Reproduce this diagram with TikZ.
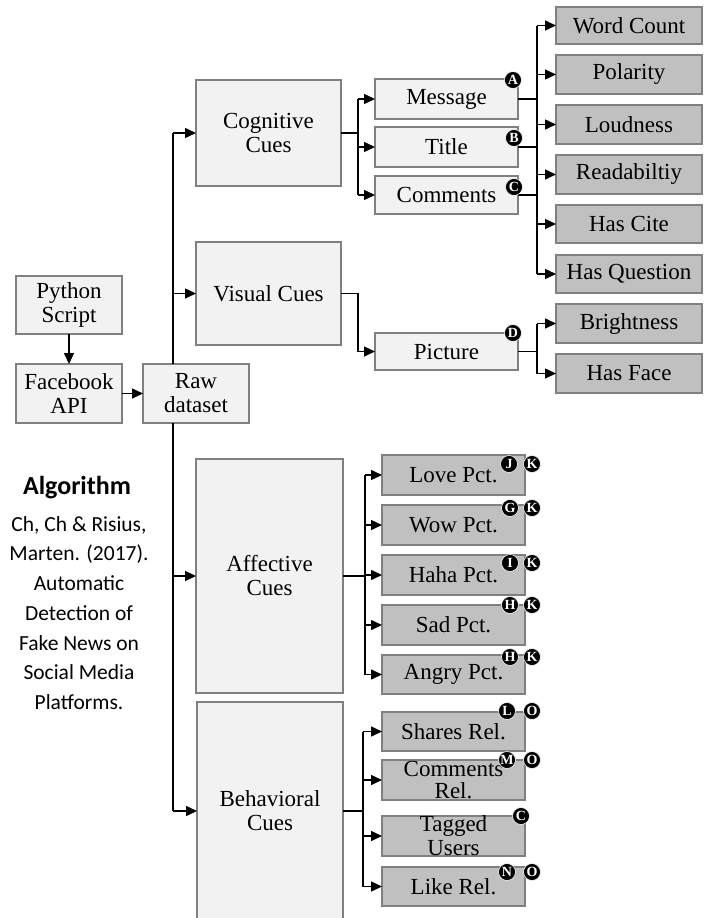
\documentclass[tikz,border=0pt]{standalone}
\usepackage{fontspec}
\setmainfont{Liberation Serif}
\newfontfamily\calibrifont{Carlito}
\usetikzlibrary{arrows.meta,calc}
\definecolor{lightfill}{HTML}{F2F2F2}
\definecolor{grayfill}{HTML}{C0C0C0}
\definecolor{edgegray}{HTML}{808080}
\tikzset{
 base/.style={draw=edgegray, line width=1.5pt, inner sep=0pt, outer sep=0pt, align=center, font=\fontsize{23}{24}\selectfont},
 lightbox/.style={base, fill=lightfill},
 graybox/.style={base, fill=grayfill},
 conn/.style={line width=1.5pt, black},
 arr/.style={conn, -{Triangle[length=11pt,width=10pt]}},
 badge/.style={circle, fill=black, draw=white, line width=0.6pt, text=white, inner sep=0pt, minimum size=17pt, font=\fontsize{14}{14}\bfseries\selectfont},
}
\newcommand{\bx}[7]{\node[#6, minimum width={(#4-#2)*1pt}, minimum height={(#5-#3)*1pt}] (#1) at ({(#2+#4)/2},{(#3+#5)/2}) {#7};}
\begin{document}
\begin{tikzpicture}[x=1pt,y=-1pt]
\useasboundingbox[fill=white] (0,0) rectangle (707,918);
% left column
\bx{py}{16}{276}{122}{334}{lightbox}{Python\\Script}
\bx{fb}{16}{364}{122}{423}{lightbox}{Facebook\\API}
\bx{raw}{143}{364}{249}{423}{lightbox}{Raw\\dataset}
% cue boxes
\bx{cog}{196}{80}{341}{186}{lightbox}{Cognitive\\Cues}
\bx{vis}{196}{242}{341}{345}{lightbox}{Visual Cues}
\bx{aff}{196}{459}{343}{693}{lightbox}{Affective\\Cues}
\bx{beh}{197}{702}{343}{920}{lightbox}{Behavioral\\Cues}
% sources
\bx{msg}{375}{79}{518}{119}{lightbox}{Message}
\bx{title}{375}{127}{518}{167}{lightbox}{Title}
\bx{comm}{375}{176}{518}{214}{lightbox}{Comments}
\bx{pic}{375}{333}{518}{370}{lightbox}{Picture}
% features
\bx{wc}{556}{7}{702}{44}{graybox}{Word Count}
\bx{pol}{556}{55}{702}{94}{graybox}{Polarity}
\bx{loud}{556}{105}{702}{144}{graybox}{Loudness}
\bx{read}{556}{155}{702}{194}{graybox}{Readabiltiy}
\bx{hascite}{556}{205}{702}{243}{graybox}{Has Cite}
\bx{hq}{556}{255}{702}{293}{graybox}{Has Question}
\bx{bright}{556}{304}{702}{343}{graybox}{Brightness}
\bx{face}{556}{354}{702}{393}{graybox}{Has Face}
\bx{love}{382}{455}{525}{495}{graybox}{Love Pct.}
\bx{wow}{382}{505}{525}{545}{graybox}{Wow Pct.}
\bx{haha}{382}{555}{525}{595}{graybox}{Haha Pct.}
\bx{sad}{382}{605}{525}{645}{graybox}{Sad Pct.}
\bx{angry}{382}{655}{525}{694}{graybox}{Angry Pct.}
\bx{shares}{382}{712}{525}{751}{graybox}{Shares Rel.}
\bx{commrel}{382}{760}{525}{800}{graybox}{Comments\\[-2pt]Rel.}
\bx{tagged}{382}{816}{525}{856}{graybox}{Tagged\\Users}
\bx{like}{382}{867}{525}{906}{graybox}{Like Rel.}
% junction coordinates
\coordinate (trTop) at (173,133);
\coordinate (trBot) at (173,811);
\coordinate (cj) at (358,133);
\coordinate (vj) at (358,0);
\coordinate (aj) at (537,0);
\coordinate (afj) at (365,576);
\coordinate (bj) at (363,811);
% left connectors
\draw[arr] (py.south) -- (fb.north);
\draw[arr] (fb.east) -- (raw.west);
\draw[conn] (trTop) -- (trTop |- raw.north);
\draw[conn] (trTop |- raw.south) -- (trBot);
\draw[arr] (trTop) -- (cog.west);
\draw[arr] (trTop |- vis.west) -- (vis.west);
\draw[arr] (trTop |- aff.west) -- (aff.west);
\draw[arr] (trBot) -- (beh.west);
% cognitive
\draw[conn] (cog.east) -- (cj);
\draw[conn] (cj |- msg.west) -- (cj |- comm.west);
\foreach \n in {msg,title,comm} \draw[arr] (cj |- \n.west) -- (\n.west);
\foreach \n in {msg,title,comm} \draw[conn] (\n.east) -- (aj |- \n.east);
\draw[conn] (aj |- wc.west) -- (aj |- hq.west);
\foreach \n in {wc,pol,loud,read,hascite,hq} \draw[arr] (aj |- \n.west) -- (\n.west);
% visual
\draw[arr] (vis.east) -- (vis.east -| vj) |- (pic.west);
\draw[conn] (pic.east) -- (aj |- pic.east);
\draw[conn] (aj |- bright.west) -- (aj |- face.west);
\foreach \n in {bright,face} \draw[arr] (aj |- \n.west) -- (\n.west);
% affective
\draw[conn, line width=2.2pt] (aff.east) -- (afj);
\draw[conn] (afj |- love.west) -- (afj |- angry.west);
\foreach \n in {love,wow,haha,sad,angry} \draw[arr] (afj |- \n.west) -- (\n.west);
% behavioral
\draw[conn, line width=2.2pt] (beh.east) -- (bj);
\draw[conn] (bj |- shares.west) -- (bj |- like.west);
\foreach \n in {shares,commrel,tagged,like} \draw[arr] (bj |- \n.west) -- (\n.west);
% badges
\node[badge] (bA) at (513,80) {A};
\node[badge] (bB) at (514,138) {B};
\node[badge] (bC) at (514,187) {C};
\node[badge] (bD) at (513,333) {D};
\node[badge] (bJ) at (509,464) {J};
\node[badge] (bK1) at (532,464) {K};
\node[badge] (bG) at (510,508) {G};
\node[badge] (bK2) at (532,508) {K};
\node[badge] (bI) at (510,563) {I};
\node[badge] (bK3) at (532,563) {K};
\node[badge] (bH1) at (510,605) {H};
\node[badge] (bK4) at (532,605) {K};
\node[badge] (bH2) at (510,657) {H};
\node[badge] (bK5) at (532,657) {K};
\node[badge] (bL) at (507,711) {L};
\node[badge] (bO1) at (532,711) {O};
\node[badge] (bM) at (507,760) {M};
\node[badge] (bO2) at (532,760) {O};
\node[badge] (bC2) at (521,816) {C};
\node[badge] (bN) at (507,872) {N};
\node[badge] (bO3) at (532,872) {O};
% reference text
\node[font=\calibrifont\bfseries\fontsize{26}{30}\selectfont] (alg) at (77,488) {Algorithm};
\node[font=\calibrifont\fontsize{21.5}{29.7}\selectfont, align=center] (ref) at (79,613) {Ch, Ch \& Risius,\\Marten. (2017).\\Automatic\\Detection of\\Fake News on\\Social Media\\Platforms.};
\end{tikzpicture}
\end{document}
